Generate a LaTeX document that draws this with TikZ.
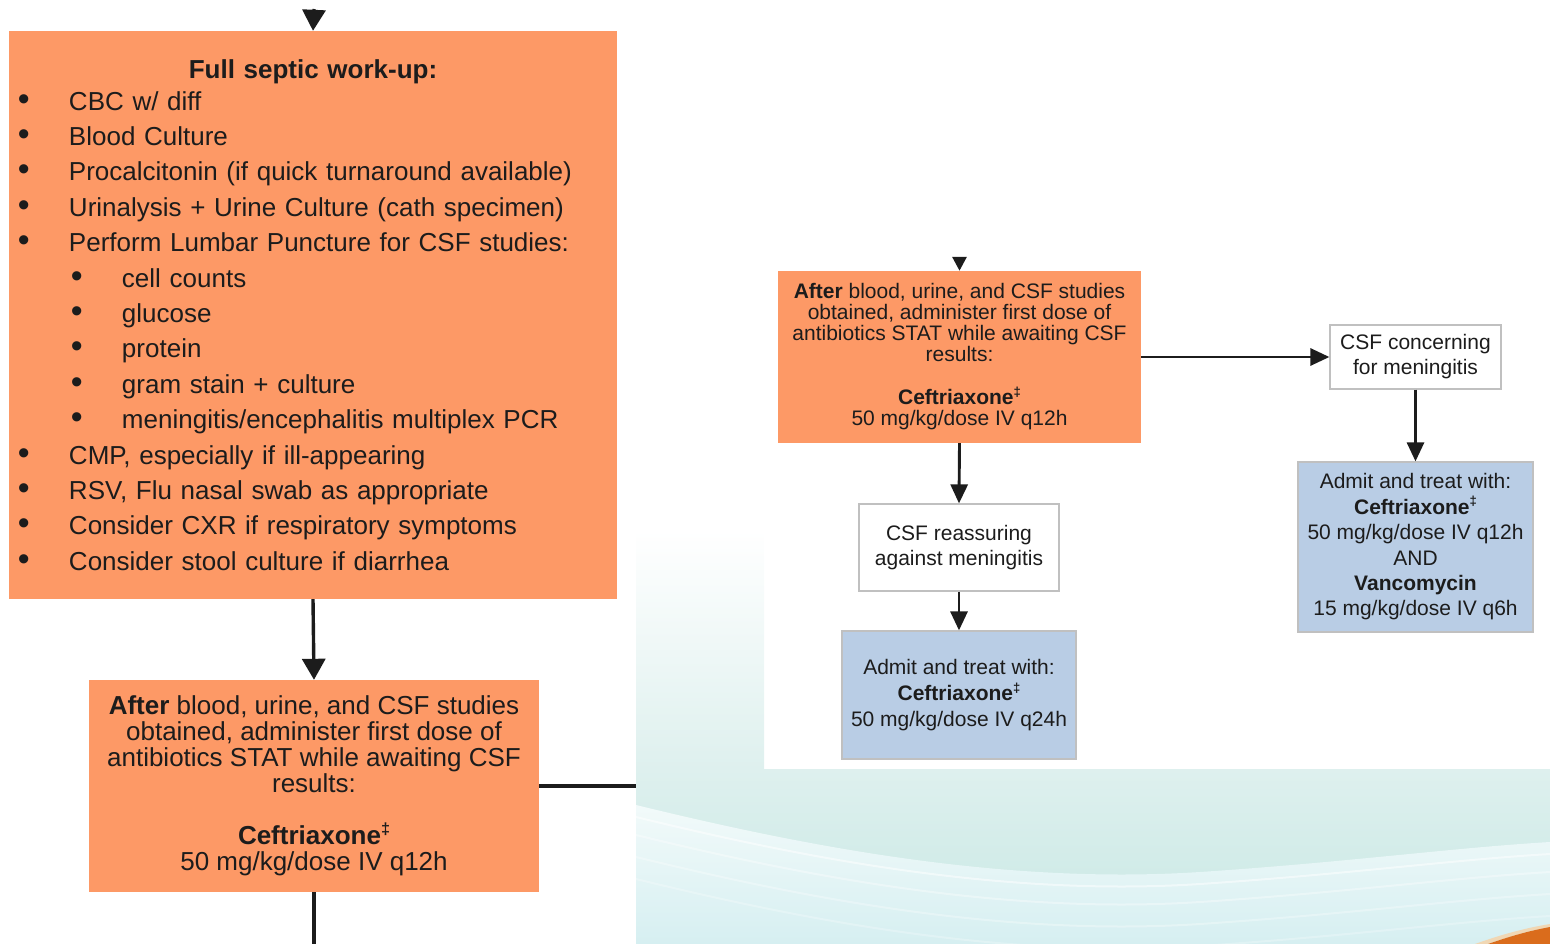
\documentclass[tikz,border=0pt]{standalone}
\usepackage{fontspec}
\setmainfont{Liberation Sans}
\usepackage{graphicx}
\usetikzlibrary{arrows.meta}

\definecolor{orangefill}{RGB}{253,153,102}
\definecolor{bluefill}{RGB}{185,205,229}
\definecolor{boxedge}{RGB}{192,192,192}
\definecolor{ink}{RGB}{28,28,28}
\definecolor{tealA}{RGB}{222,240,238}
\definecolor{tealB}{RGB}{200,232,228}
\definecolor{waveA}{RGB}{242,250,250}
\definecolor{waveB}{RGB}{214,239,241}
\definecolor{swoosh}{RGB}{218,108,28}
\definecolor{swooshedge}{RGB}{240,215,180}

% small raised double dagger after drug names
\newcommand\dagmark{\raisebox{0.40em}{\scalebox{0.62}{\bfseries ‡}}}
% first- and second-level bullet lines of the work-up list
\newcommand\itemA[1]{\hspace*{9pt}\makebox[51pt][l]{\scalebox{1.3}{\textbullet}}#1}
\newcommand\itemB[1]{\hspace*{62pt}\makebox[51pt][l]{\scalebox{1.3}{\textbullet}}#1}

\tikzset{
  orangebox/.style={rectangle, fill=orangefill, draw=none, text=ink, align=center},
  whitebox/.style={rectangle, fill=white, draw=boxedge, line width=1.2pt, text=ink, align=center},
  bluebox/.style={rectangle, fill=bluefill, draw=boxedge, line width=1.2pt, text=ink, align=center},
  bigline/.style={draw=ink, line width=3.4pt},
  bigarrow/.style={bigline, -{Triangle[width=23pt,length=21pt]}},
  smallline/.style={draw=ink, line width=2.9pt},
  smallarrow/.style={smallline, -{Triangle[width=17pt,length=19pt]}},
  toparrow/.style={smallline, -{Triangle[width=14pt,length=14pt]}},
}

\begin{document}
\begin{tikzpicture}[x=1pt,y=-1pt]
\useasboundingbox (0,0) rectangle (1550,944);

% ---- backdrop on the right-hand side ----
\shade[top color=white, bottom color=tealA] (636,530) rectangle (764,769);
\shade[top color=tealA, bottom color=tealB] (636,769) rectangle (1550,944);
\shade[top color=waveA, bottom color=waveB]
  (636,805) .. controls (800,845) and (1000,885) .. (1200,872)
  .. controls (1350,862) and (1450,848) .. (1550,842)
  -- (1550,944) -- (636,944) -- cycle;
\foreach \dy/\op in {12/0.5, 30/0.35, 52/0.3, 74/0.25}{
  \draw[white, line width=2pt, opacity=\op]
    (636,805+\dy) .. controls (800,845+\dy) and (1000,885+\dy) .. (1200,872+\dy)
    .. controls (1350,862+\dy) and (1450,848+\dy) .. (1550,842+\dy);
}
\fill[swooshedge] (1475,944) .. controls (1500,935) and (1525,928) .. (1550,924)
  -- (1550,927) .. controls (1528,931) and (1508,937) .. (1488,944) -- cycle;
\fill[swoosh] (1488,944) .. controls (1508,937) and (1528,931) .. (1550,927)
  -- (1550,944) -- cycle;

% ---- left column ----
\node[orangebox, minimum width=608pt, minimum height=568pt, text width=608pt,
      inner xsep=0pt, align=left, font=\fontsize{26}{35.4}\selectfont] (workup) at (313,315) {%
\makebox[608pt][c]{\bfseries Full septic work-up:}\\[-3.4pt]
\itemA{CBC w/ diff}\\
\itemA{Blood Culture}\\
\itemA{Procalcitonin (if quick turnaround available)}\\
\itemA{Urinalysis + Urine Culture (cath specimen)}\\
\itemA{Perform Lumbar Puncture for CSF studies:}\\
\itemB{cell counts}\\
\itemB{glucose}\\
\itemB{protein}\\
\itemB{gram stain + culture}\\
\itemB{meningitis/encephalitis multiplex PCR}\\
\itemA{CMP, especially if ill-appearing}\\
\itemA{RSV, Flu nasal swab as appropriate}\\
\itemA{Consider CXR if respiratory symptoms}\\
\itemA{Consider stool culture if diarrhea}};

\node[orangebox, minimum width=450pt, minimum height=212pt,
      font=\fontsize{26}{26}\selectfont] (firstdoseL) at (314,786) {%
\textbf{After} blood, urine, and CSF studies\\
obtained, administer first dose of\\
antibiotics STAT while awaiting CSF\\
results:\\[26pt]
\textbf{Ceftriaxone}\dagmark\\
50 mg/kg/dose IV q12h};

\coordinate (inL) at (314,9);
\coordinate (outL) at (314,944);
\coordinate (sideL) at (636,786);
\draw[bigarrow] (inL) -- (workup.north);
\draw[bigarrow] (workup.south) -- (firstdoseL.north);
\draw[bigline] (firstdoseL.south) -- (outL);
\draw[bigline] (firstdoseL.east) -- (sideL);

% ---- right column ----
\node[orangebox, minimum width=363pt, minimum height=172pt,
      font=\fontsize{21}{21}\selectfont] (firstdoseR) at (959.5,357) {%
\textbf{After} blood, urine, and CSF studies\\
obtained, administer first dose of\\
antibiotics STAT while awaiting CSF\\
results:\\[22pt]
\textbf{Ceftriaxone}\dagmark\\
50 mg/kg/dose IV q12h};

\node[whitebox, minimum width=171pt, minimum height=64pt,
      font=\fontsize{21}{25}\selectfont] (concern) at (1415.5,357) {%
CSF concerning\\for meningitis};

\node[bluebox, minimum width=235pt, minimum height=170pt,
      font=\fontsize{21}{25.4}\selectfont] (treatV) at (1415.5,547) {%
Admit and treat with:\\
\textbf{Ceftriaxone}\dagmark\\
50 mg/kg/dose IV q12h\\
AND\\
\textbf{Vancomycin}\\
15 mg/kg/dose IV q6h};

\node[whitebox, minimum width=200pt, minimum height=87pt,
      font=\fontsize{21}{25}\selectfont] (reassure) at (959,547.5) {%
CSF reassuring\\against meningitis};

\node[bluebox, minimum width=234pt, minimum height=128pt,
      font=\fontsize{21}{26}\selectfont] (treatC) at (959,695) {%
Admit and treat with:\\
\textbf{Ceftriaxone}\dagmark\\
50 mg/kg/dose IV q24h};

\coordinate (inR) at (959.5,257);
\draw[toparrow] (inR) -- (firstdoseR.north);
\draw[smallarrow] (firstdoseR.east) -- (concern.west);
\draw[smallarrow] (concern.south) -- (treatV.north);
\draw[smallarrow] (firstdoseR.south) -- (reassure.north);
\draw[smallarrow] (reassure.south) -- (treatC.north);

\end{tikzpicture}
\end{document}
